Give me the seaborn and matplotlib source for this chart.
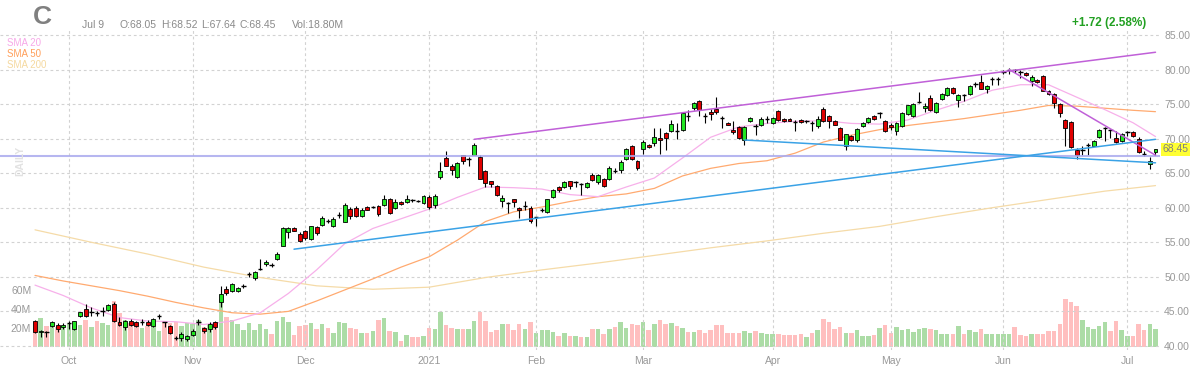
import numpy as np
import pandas as pd
import matplotlib
matplotlib.use("Agg")
import matplotlib.pyplot as plt
import matplotlib.transforms as mtransforms
import seaborn as sns

# trading days shown: Sep 23 2020 .. Jul 9 2021
holidays = ["2020-11-26", "2020-12-25", "2021-01-01", "2021-01-18",
            "2021-02-15", "2021-04-02", "2021-05-31", "2021-07-05"]
dates = pd.bdate_range("2020-09-23", "2021-07-09").drop(pd.to_datetime(holidays))

opens = [
    43.67, 41.98, 41.98, 42.95, 43.09, 42.75, 43.30, 42.46, 44.30, 45.36,
    44.88, 44.78, 45.00, 45.20, 46.10, 43.50, 42.71, 43.60, 43.40, 43.43,
    43.50, 42.90, 44.30, 43.40, 42.95, 41.10, 41.11, 41.01, 41.60, 43.45,
    42.60, 42.40, 43.50, 46.33, 48.26, 47.90, 47.90, 48.70, 50.40, 49.80,
    51.10, 51.80, 51.70, 52.60, 54.50, 56.50, 57.00, 56.20, 56.60, 55.50,
    57.20, 57.50, 58.10, 57.41, 59.00, 58.00, 59.83, 60.00, 58.86, 60.07,
    60.07, 60.31, 60.46, 61.20, 60.00, 60.90, 60.80, 61.10, 61.00, 60.70,
    61.50, 60.40, 64.50, 67.20, 66.10, 64.50, 67.60, 67.10, 67.70, 67.40,
    65.30, 63.80, 63.20, 61.00, 60.70, 61.20, 60.00, 60.30, 59.90, 58.60,
    59.70, 59.40, 61.50, 63.00, 63.00, 63.80, 63.70, 63.40, 63.00, 64.78,
    63.72, 64.20, 64.15, 65.36, 65.50, 67.05, 68.90, 66.70, 68.50, 69.08,
    69.40, 70.10, 70.80, 71.06, 71.06, 71.20, 73.33, 74.44, 75.41, 73.33,
    73.82, 74.30, 73.00, 72.30, 71.30, 71.69, 69.86, 72.60, 71.80, 71.90,
    72.85, 72.20, 74.00, 72.85, 72.85, 72.37, 72.75, 72.50, 72.20, 71.80,
    74.30, 73.30, 72.60, 71.50, 69.00, 70.40, 69.86, 71.80, 72.46, 73.30,
    73.70, 72.61, 72.03, 71.06, 71.79, 73.57, 73.33, 75.27, 74.44, 75.89,
    73.82, 75.75, 76.38, 77.34, 75.65, 76.30, 76.52, 77.92, 78.21, 77.25,
    78.70, 78.70, 79.66, 80.00, 79.90, 79.66, 79.47, 78.31, 78.55, 79.03,
    76.96, 76.47, 75.02, 72.75, 72.40, 68.41, 68.41, 69.03, 68.99, 70.20,
    71.55, 71.30, 70.10, 69.71, 71.00, 71.00, 70.00, 67.78, 66.33, 68.05,
]
highs = [
    43.77, 42.37, 42.22, 43.67, 43.29, 43.35, 43.55, 43.67, 44.98, 46.00,
    45.60, 45.00, 45.60, 46.00, 46.30, 44.15, 43.80, 43.90, 43.60, 43.90,
    43.70, 44.00, 44.55, 43.45, 43.05, 41.40, 41.98, 41.60, 42.46, 43.90,
    42.80, 43.45, 43.60, 48.74, 48.60, 49.10, 48.50, 48.95, 50.77, 50.90,
    52.60, 52.37, 52.00, 53.57, 57.20, 57.20, 57.20, 56.50, 56.80, 57.40,
    57.40, 58.77, 58.40, 58.60, 59.35, 60.65, 60.07, 60.20, 59.90, 60.20,
    60.20, 60.40, 61.86, 61.40, 61.28, 61.00, 61.86, 61.30, 61.10, 61.80,
    61.77, 62.00, 66.60, 68.15, 66.36, 66.60, 67.70, 67.30, 69.30, 67.60,
    65.40, 63.90, 63.30, 61.90, 60.80, 61.30, 60.10, 61.00, 60.20, 58.70,
    59.90, 61.30, 62.70, 63.20, 63.80, 63.90, 63.90, 63.60, 63.70, 65.02,
    64.90, 64.30, 65.99, 65.75, 66.96, 68.65, 69.13, 66.96, 69.86, 69.20,
    71.55, 71.55, 70.92, 72.66, 72.30, 73.82, 74.20, 75.27, 75.56, 73.72,
    74.30, 76.04, 73.33, 72.40, 72.51, 71.79, 71.88, 73.14, 72.13, 73.14,
    73.24, 73.10, 74.20, 73.00, 73.00, 72.75, 72.90, 72.70, 72.51, 73.24,
    74.54, 73.48, 72.70, 71.69, 70.72, 70.50, 71.55, 72.40, 73.10, 73.40,
    73.80, 72.71, 72.27, 72.37, 73.86, 74.93, 75.17, 76.76, 75.17, 76.28,
    75.27, 76.62, 77.44, 77.44, 76.47, 76.52, 77.73, 78.21, 79.28, 77.83,
    78.94, 78.94, 79.90, 80.24, 80.14, 79.86, 79.60, 79.18, 78.70, 79.18,
    77.00, 76.62, 75.17, 72.85, 72.51, 68.65, 68.89, 69.37, 69.80, 71.45,
    71.64, 71.45, 71.16, 70.82, 71.16, 71.10, 70.19, 68.16, 67.30, 68.52,
]
lows = [
    41.88, 41.26, 41.26, 42.71, 41.98, 42.46, 42.46, 42.37, 44.20, 44.15,
    44.40, 44.30, 44.40, 45.10, 43.50, 42.95, 42.37, 42.95, 42.80, 43.10,
    42.95, 42.80, 43.90, 42.80, 41.78, 40.87, 40.77, 40.70, 41.40, 43.10,
    41.80, 42.00, 42.50, 45.60, 47.40, 47.78, 47.80, 48.35, 49.95, 49.60,
    51.00, 51.50, 51.40, 52.50, 54.40, 55.60, 56.60, 55.00, 55.40, 55.40,
    56.10, 57.40, 57.80, 57.20, 58.58, 57.90, 58.38, 58.60, 58.70, 59.60,
    59.90, 58.86, 60.30, 59.10, 59.83, 60.40, 60.70, 60.80, 60.90, 60.50,
    59.83, 59.90, 64.20, 66.00, 64.67, 64.30, 66.36, 66.10, 67.60, 64.10,
    63.00, 63.00, 61.70, 60.10, 59.20, 60.10, 58.50, 59.60, 57.80, 57.40,
    59.35, 59.30, 61.40, 62.30, 62.90, 62.70, 63.00, 61.80, 62.90, 63.82,
    63.50, 63.00, 64.06, 65.02, 65.02, 66.96, 66.86, 65.51, 67.83, 68.60,
    68.99, 67.83, 68.41, 70.92, 69.95, 71.10, 72.51, 74.20, 73.24, 72.27,
    72.75, 73.60, 71.55, 71.90, 70.60, 69.95, 69.13, 72.46, 70.50, 71.79,
    72.27, 72.10, 72.56, 72.40, 72.50, 71.06, 72.30, 72.30, 71.06, 71.55,
    72.37, 71.55, 71.90, 69.76, 68.30, 69.70, 69.47, 71.70, 72.30, 72.70,
    73.00, 70.97, 71.30, 70.48, 71.64, 73.48, 73.19, 75.10, 73.86, 74.06,
    73.72, 75.65, 76.14, 76.52, 74.54, 75.50, 76.38, 77.49, 77.15, 76.62,
    77.83, 77.83, 79.37, 79.37, 79.47, 78.79, 79.00, 77.58, 78.00, 76.86,
    76.30, 74.44, 73.09, 69.00, 68.65, 67.10, 67.68, 67.68, 68.90, 70.10,
    69.71, 70.10, 69.40, 69.52, 70.34, 70.20, 67.92, 67.44, 65.65, 67.64,
]
closes = [
    41.98, 42.20, 41.98, 43.43, 42.46, 43.09, 43.30, 43.60, 44.88, 44.30,
    44.88, 44.78, 45.00, 45.85, 43.67, 43.10, 43.60, 43.10, 42.95, 43.43,
    43.10, 43.91, 44.30, 43.40, 41.88, 41.10, 41.74, 41.40, 42.20, 43.45,
    42.10, 43.20, 42.80, 47.54, 47.68, 48.95, 48.40, 48.70, 50.40, 50.70,
    51.10, 52.20, 51.70, 53.30, 57.00, 57.00, 56.70, 55.20, 55.60, 57.30,
    56.30, 58.57, 58.10, 58.38, 59.00, 60.40, 58.86, 58.77, 59.73, 59.73,
    60.07, 59.10, 61.28, 59.25, 60.80, 60.50, 61.20, 61.10, 61.00, 61.66,
    60.10, 61.70, 65.25, 66.10, 65.40, 66.50, 66.70, 67.10, 69.10, 64.20,
    63.60, 63.40, 61.90, 61.40, 60.70, 60.90, 59.60, 60.30, 58.10, 58.60,
    59.70, 61.20, 62.50, 62.60, 63.70, 63.20, 63.70, 63.40, 63.60, 64.06,
    64.69, 63.19, 65.75, 65.36, 66.60, 68.50, 67.05, 65.75, 69.47, 68.80,
    70.24, 69.86, 70.14, 72.17, 71.06, 73.70, 73.33, 75.17, 74.20, 73.33,
    73.57, 73.82, 73.00, 72.00, 71.00, 70.14, 71.69, 73.00, 71.80, 72.85,
    72.85, 73.00, 72.70, 72.56, 72.60, 72.37, 72.46, 72.50, 72.20, 72.85,
    72.50, 72.50, 72.00, 69.86, 70.60, 69.86, 71.40, 72.30, 72.95, 72.85,
    73.70, 71.16, 71.64, 72.27, 73.72, 74.83, 75.02, 75.27, 74.78, 74.20,
    75.17, 76.52, 77.34, 76.62, 76.38, 76.30, 77.58, 77.92, 77.25, 77.58,
    78.70, 78.70, 79.66, 80.00, 79.90, 79.66, 79.18, 78.89, 78.21, 76.96,
    76.52, 75.17, 73.72, 71.55, 68.74, 67.58, 68.41, 69.03, 69.71, 71.30,
    71.55, 71.30, 69.52, 70.68, 71.00, 70.34, 68.07, 67.78, 66.73, 68.45,
]
volumes = [  # millions
    26, 30, 22, 23.5, 21, 22, 24, 22, 23, 28,
    21, 27, 25, 23, 48, 36, 28, 25, 25, 20,
    22.5, 21, 16.8, 26, 25, 26, 22.5, 25, 24.6, 28.8,
    21, 24, 21.8, 50, 31.6, 28.8, 24, 18.3, 25.6, 18.3,
    24.6, 18.6, 14, 27.4, 31.6, 26.3, 12.3, 22, 22.8, 25.6,
    18.6, 24, 19.7, 14.4, 26, 25, 19.7, 19, 15, 14.4,
    16.8, 28.4, 31, 16.8, 16, 6.3, 12.6, 10, 10, 12,
    19.7, 19, 36.5, 23, 19.7, 19, 19, 19, 27.7, 36.5,
    27.7, 16, 18, 24, 24, 18, 24, 19, 26, 15,
    18, 18, 16, 11.6, 14.4, 11.6, 12, 11, 11, 18.6,
    18.6, 13.7, 19, 21.4, 26, 20, 24, 23, 26.7, 18,
    24, 28.4, 24, 25, 22.5, 20, 16, 16, 18, 15,
    18, 23, 23, 14.4, 15, 15, 17, 15, 17, 14.4,
    13.7, 13.7, 13.7, 12.6, 12.6, 12.6, 13.7, 11, 15, 18,
    29.5, 26.7, 18.6, 21.4, 14.4, 14.4, 18, 11.6, 11.6, 13,
    19.6, 23, 15, 21.4, 18, 19, 16, 19, 20.4, 18.6,
    18, 13.3, 14, 13.3, 22, 14, 18, 16, 19, 14,
    14, 13.3, 14, 14, 21, 12.6, 12, 14, 13.3, 14,
    16.8, 16.8, 23.9, 51, 47.7, 43.5, 28.4, 20.7, 19, 22.5,
    26, 16.8, 27.7, 17.5, 12, 12, 24, 17.5, 24, 18.80,
]

# moving averages (day index, value)
sma20_idx = list(range(0, 200, 5)) + [199]
sma20 = [48.8, 47.3, 45.5, 44.1, 43.6, 43.5, 43.1, 43.6, 44.8, 47.6,
         51.0, 54.8, 57.0, 58.4, 59.8, 61.5, 63.0, 62.9, 62.7, 61.9,
         61.6, 63.0, 64.3, 67.2, 70.2, 71.7, 72.2, 72.5, 72.6, 72.2,
         72.1, 72.7, 74.1, 75.4, 77.0, 77.8, 77.8, 76.0, 74.2, 72.3, 70.3]
sma50_idx = list(range(0, 200, 5)) + [199]
sma50 = [50.2, 49.4, 48.7, 48.0, 47.2, 46.3, 45.5, 44.8, 44.6, 45.0,
         46.5, 48.1, 49.7, 51.4, 52.9, 55.3, 58.0, 59.4, 60.1, 60.9,
         61.6, 62.0, 62.8, 64.6, 65.7, 66.4, 66.8, 67.9, 69.5, 70.5,
         71.3, 71.9, 72.4, 72.9, 73.5, 74.1, 74.8, 74.7, 74.4, 74.1, 73.9]
sma200_idx = list(range(0, 200, 10)) + [199]
sma200 = [56.8, 55.0, 53.3, 51.4, 49.9, 48.7, 48.2, 48.5, 49.9, 51.0,
          52.0, 53.1, 54.2, 55.2, 56.3, 57.3, 58.7, 60.0, 61.2, 62.4, 63.2]

# drawn trend lines: (start index, start price, end index, end price, colour)
trend_lines = [
    (78, 69.9, 199, 82.5, "#c060d8"),
    (173, 80.0, 199, 67.6, "#c060d8"),
    (46, 54.0, 199, 69.9, "#3aa2e6"),
    (126, 69.8, 199, 66.5, "#3aa2e6"),
]
level_line = 67.5

GREEN, RED = "#22e622", "#e00000"
VGREEN, VRED = "#acdca6", "#ffbfbf"
GRAY = "#999999"

sns.set_style("white")
plt.rcParams["font.family"] = ["Liberation Sans", "DejaVu Sans"]

fig = plt.figure(figsize=(12, 3.75), dpi=100)
rect = [0, 25 / 375, 1160 / 1200, 320 / 375]
vax = fig.add_axes(rect)
ax = fig.add_axes(rect, sharex=vax)
ax.set_zorder(vax.get_zorder() + 1)
ax.patch.set_alpha(0)

n = len(closes)
x = np.arange(n)
o = np.array(opens); h = np.array(highs); l = np.array(lows); c = np.array(closes)
prev = np.r_[c[0], c[:-1]]
up = np.where(c != o, c > o, c >= prev)

# volume
vax.bar(x, volumes, width=0.8, color=np.where(up, VGREEN, VRED), linewidth=0)
vax.set_ylim(-3.2, 333.7)
vax.set_yticks([20, 40, 60])
vax.set_yticklabels(["20M", "40M", "60M"])
vax.tick_params(axis="y", direction="in", length=0, pad=-22.5, labelsize=7.5,
                labelcolor=GRAY)
vax.tick_params(axis="x", bottom=False, labelbottom=False)
for s in vax.spines.values():
    s.set_visible(False)

# grid
month_start = [i for i in range(1, n) if dates[i].month != dates[i - 1].month]
month_lab = [str(dates[i].year) if dates[i].month == 1 else dates[i].strftime("%b")
             for i in month_start]
for i in month_start:
    ax.axvline(i, color="#d2d2d2", lw=0.8, ls=(0, (2.5, 2.5)), zorder=1)
for p in range(40, 90, 5):
    ax.axhline(p, color="#d2d2d2", lw=0.8, ls=(0, (2.5, 2.5)), zorder=1)

# moving averages
sns.lineplot(x=sma200_idx, y=sma200, ax=ax, color="#f5dba8", lw=0.9, zorder=2)
sns.lineplot(x=sma50_idx, y=sma50, ax=ax, color="#ffaa70", lw=0.9, zorder=2)
sns.lineplot(x=sma20_idx, y=sma20, ax=ax, color="#f7b0ea", lw=0.9, zorder=2)

# candles
ax.vlines(x, l, h, color="black", lw=0.8, zorder=3)
body = np.abs(c - o)
solid = body > 0
ax.bar(x[solid], body[solid], bottom=np.minimum(o, c)[solid], width=0.7,
       color=np.where(c > o, GREEN, RED)[solid], edgecolor="black", lw=0.6, zorder=4)
ax.hlines(c[~solid], x[~solid] - 0.4, x[~solid] + 0.4, color="black", lw=1.0, zorder=4)

# drawn lines
ax.axhline(level_line, color="#aaaaee", lw=1.5, alpha=0.85, zorder=5)
for x0, y0, x1, y1, col in trend_lines:
    ax.plot([x0, x1], [y0, y1], color=col, lw=1.1, zorder=5)

ax.set_xlim(-6.22, 199.8)
ax.set_ylim(39.41, 85.72)
ax.set_yticks(range(40, 90, 5))
ax.set_yticklabels([f"{p:.2f}" for p in range(40, 90, 5)])
ax.yaxis.tick_right()
ax.set_xticks(month_start)
ax.set_xticklabels(month_lab)
ax.tick_params(length=0, labelsize=7.5, labelcolor=GRAY)
ax.tick_params(axis="y", pad=3)
ax.tick_params(axis="x", pad=4)
ax.set_xlabel("")
ax.set_ylabel("")
for s in ax.spines.values():
    s.set_visible(False)

# last price tag
tr = mtransforms.blended_transform_factory(ax.transAxes, ax.transData)
ax.text(1.002, c[-1], f"{c[-1]:.2f}", transform=tr, ha="left", va="center",
        fontsize=7.5, color="#808080",
        bbox=dict(boxstyle="square,pad=0.12", fc="#ffff33", ec="none"))

# header
def ftext(px, py, s, **kw):
    fig.text(px / 1200, 1 - py / 375, s, va="center", **kw)

ftext(33, 17, "C", fontsize=19, fontweight="bold", color="#808080")
d = dates[-1]
header = [(82, f"{d:%b} {d.day}"), (120, f"O:{o[-1]:.2f}"), (161, f"H:{h[-1]:.2f}"),
          (201, f"L:{l[-1]:.2f}"), (240, f"C:{c[-1]:.2f}"), (292, f"Vol:{volumes[-1]:.2f}M")]
for px, s in header:
    ftext(px, 25, s, fontsize=7.5, color="#8a8a8a")
chg = c[-1] - c[-2]
ftext(1146, 23, f"{chg:+.2f} ({chg / c[-2] * 100:.2f}%)", ha="right",
      fontsize=8.5, fontweight="bold", color="#22a022")
for py, s, col in [(43, "SMA 20", "#f7a8e8"), (54, "SMA 50", "#ff9f5a"),
                   (65, "SMA 200", "#f5d9a0")]:
    ftext(7, py, s, fontsize=7, color=col)
ftext(20, 161, "DAILY", ha="center", rotation=90, fontsize=7.5,
      fontweight="bold", color="#e2e2e2")

fig.savefig("out.png", dpi=100)
